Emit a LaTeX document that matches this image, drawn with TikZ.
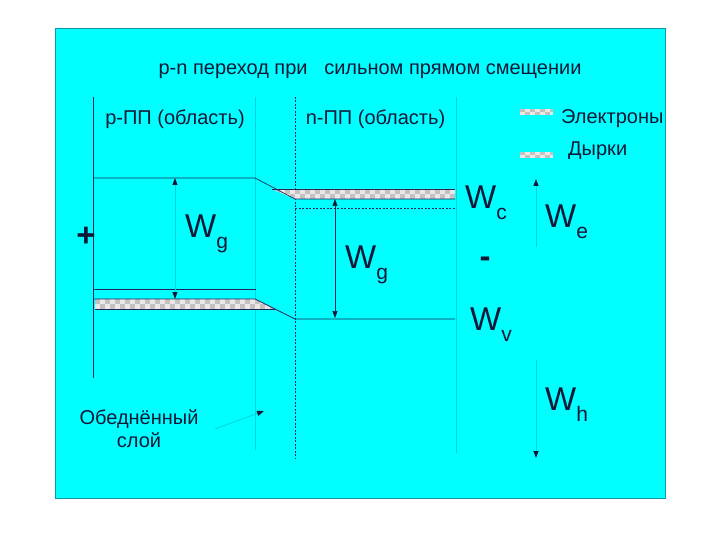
\documentclass[tikz,border=0pt]{standalone}
\usepackage{fontspec}
\setmainfont{Liberation Sans}
\usetikzlibrary{arrows.meta}
\definecolor{bgcyan}{RGB}{0,255,255}
\definecolor{ink}{RGB}{16,24,56}
\definecolor{lineink}{RGB}{30,40,90}
\definecolor{faint}{RGB}{0,212,228}
\definecolor{framec}{RGB}{20,150,170}
\definecolor{sqlight}{RGB}{236,232,232}
\definecolor{sqdark}{RGB}{196,193,193}
\newcommand\Wsub[1]{{\fontsize{33}{33}\selectfont W}\raisebox{-11pt}{\fontsize{21}{21}\selectfont #1}}
\begin{document}
\begin{tikzpicture}[x=1pt,y=-1pt,
  txt/.style={text=ink, font=\fontsize{20}{23}\selectfont, inner sep=0pt},
  wlab/.style={text=ink, inner sep=0pt, anchor=base west},
  sign/.style={text=ink, inner sep=0pt, font=\fontsize{33}{33}\selectfont\bfseries},
  level/.style={draw=lineink, line width=0.7pt},
  dlevel/.style={draw=lineink, line width=0.7pt, dash pattern=on 2pt off 1.5pt},
  faintline/.style={draw=faint, line width=0.8pt},
  inktip/.tip={Triangle[length=7pt,width=5pt,color=ink]},
  dimfaint/.style={draw=faint, line width=0.8pt},
  diminks/.style={draw=lineink, line width=0.7pt}
]
\useasboundingbox (0,0) rectangle (720,540);
\fill[white] (0,0) rectangle (720,540);
\filldraw[fill=bgcyan, draw=framec, line width=0.8pt] (55,28) rectangle (665,498);

% vertical region lines
\draw[level] (93,97) -- (93,378);
\draw[faintline] (255,97) -- (255,450);
\draw[dlevel] (295,97) -- (295,458);
\draw[faintline] (456,97) -- (456,453);

% electron band (n-region)
\begin{scope}
  \clip (272,189) -- (455,189) -- (455,199) -- (295,199) -- cycle;
  \fill[sqlight] (265,185) rectangle (460,200);
  \foreach \i in {0,...,19} {
    \fill[sqdark] ({265+10*\i},189) rectangle ++(5,5);
    \fill[sqdark] ({270+10*\i},194) rectangle ++(5,5);
  }
\end{scope}
\draw[lineink, line width=0.5pt] (272,189) -- (455,189);
% hole band (p-region)
\begin{scope}
  \clip (95,299) -- (255,299) -- (275,309) -- (95,309) -- cycle;
  \fill[sqlight] (90,295) rectangle (280,310);
  \foreach \i in {0,...,18} {
    \fill[sqdark] ({95+10*\i},299) rectangle ++(5,5);
    \fill[sqdark] ({100+10*\i},304) rectangle ++(5,5);
  }
\end{scope}
\draw[lineink, line width=0.5pt] (95,309) -- (275,309);

% energy levels
\coordinate (pc1) at (93,178);
\coordinate (pc2) at (255,178);
\coordinate (nc1) at (295,199);
\coordinate (nc2) at (455,199);
\draw[level] (pc1) -- (pc2) -- (nc1) -- (nc2);
\draw[level] (93,289) -- (256,289);
\coordinate (pv1) at (93,299);
\coordinate (pv2) at (255,299);
\coordinate (nv1) at (295,319);
\coordinate (nv2) at (455,319);
\draw[level] (pv1) -- (pv2) -- (nv1) -- (nv2);
\draw[dlevel] (295,208) -- (455,208);

% dimension arrows
\coordinate (lgT) at (175,178);
\coordinate (lgB) at (175,299);
\draw[dimfaint, {inktip}-{inktip}] (lgT) -- (lgB);
\coordinate (mgT) at (335,199);
\coordinate (mgB) at (335,318);
\draw[diminks, {inktip}-{inktip}] (mgT) -- (mgB);
\coordinate (weB) at (536,247);
\coordinate (weT) at (536,179);
\draw[dimfaint, -{inktip}] (weB) -- (weT);
\coordinate (whT) at (536,360);
\coordinate (whB) at (536,458);
\draw[dimfaint, -{inktip}] (whT) -- (whB);

% legend swatches
\begin{scope}
  \clip (520,109) rectangle (553,115);
  \fill[sqlight] (520,109) rectangle (553,115);
  \foreach \i in {0,...,3} {
    \fill[sqdark] ({520+10*\i},109) rectangle ++(5,3);
    \fill[sqdark] ({525+10*\i},112) rectangle ++(5,3);
  }
\end{scope}
\begin{scope}
  \clip (520,152) rectangle (553,158);
  \fill[sqlight] (520,152) rectangle (553,158);
  \foreach \i in {0,...,3} {
    \fill[sqdark] ({520+10*\i},152) rectangle ++(5,3);
    \fill[sqdark] ({525+10*\i},155) rectangle ++(5,3);
  }
\end{scope}

% texts
\node[txt, anchor=base] (title) at (370,75) {p-n переход при \ \ сильном прямом смещении};
\node[txt, anchor=base] (preg) at (175,125) {p-ПП (область)};
\node[txt, anchor=base] (nreg) at (375.5,125) {n-ПП (область)};
\node[txt, anchor=base west] (lel) at (561,124) {Электроны};
\node[txt, anchor=base west] (lho) at (568,156) {Дырки};
\node[txt, anchor=base, align=center] (depl) at (139,447) {Обеднённый\\слой};
\node[sign] (plus) at (86,237) {+};
\node[sign] (minus) at (485,262) {-};

\node[wlab] (wg1) at (185,237) {\Wsub{g}};
\node[wlab] (wg2) at (345,268) {\Wsub{g}};
\node[wlab] (wc) at (465,208) {\Wsub{c}};
\node[wlab] (we) at (545,228) {\Wsub{e}};
\node[wlab] (wv) at (470,330) {\Wsub{v}};
\node[wlab] (wh) at (545,410) {\Wsub{h}};

% depletion layer pointer
\coordinate (dtip) at (264,411);
\coordinate (dstart) at (215,429);
\draw[dimfaint, -{inktip}] (dstart) -- (dtip);
\end{tikzpicture}
\end{document}
